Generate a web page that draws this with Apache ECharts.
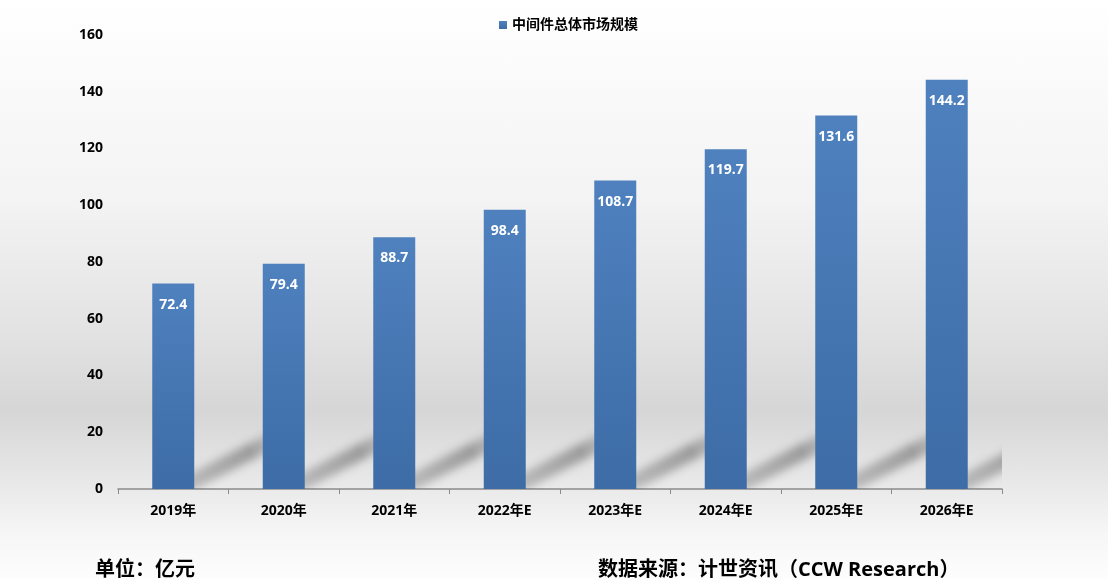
<!DOCTYPE html>
<html>
<head>
	<meta charset="utf-8">
	<title>中间件总体市场规模</title>
	<script src="https://cdn.jsdelivr.net/npm/echarts@6/dist/echarts.min.js"></script>
	<style>
		html, body { margin: 0; padding: 0; }
		#main {
			width: 1108px; height: 579px;
			background: linear-gradient(to bottom, #ffffff 0%, #f3f3f3 35%, #e2e2e2 58%, #d6d6d6 71%, #e6e6e6 82%, #f6f6f6 92%, #fdfdfd 100%);
		}
	</style>
</head>
<body>
	<div id="main"></div>
	<script>
		// 数据
		var years = ['2019年', '2020年', '2021年', '2022年E', '2023年E', '2024年E', '2025年E', '2026年E'];
		var marketSize = [72.4, 79.4, 88.7, 98.4, 108.7, 119.7, 131.6, 144.2];
		var yTicks = [0, 20, 40, 60, 80, 100, 120, 140, 160];

		var font = '"Open Sans", "Noto Sans CJK SC", sans-serif';
		var chart = echarts.init(document.getElementById('main'));

		// 柱子底部的斜向阴影（图形移到画布外，只留下模糊的投影）
		var OFF = 3000;
		function renderShadow(params, api) {
			var base = api.coord([api.value(0), 0]);
			var band = api.size([1, 0])[0];
			var xR = base[0] + band * 0.19, y0 = base[1];
			var x0 = xR - 12 + OFF, ya = y0 - 2;
			var x1 = xR + 100 + OFF, yb = y0 - 60;
			var h = 9;
			return {
				type: 'polygon',
				shape: { points: [[x0, ya + h], [x0, ya - h], [x1, yb - h], [x1, yb + h]] },
				style: {
					fill: {
						type: 'linear', global: true,
						x: x0, y: ya, x2: x1, y2: yb,
						colorStops: [
							{ offset: 0, color: 'rgba(0,0,0,0.6)' },
							{ offset: 0.6, color: 'rgba(0,0,0,1)' },
							{ offset: 1, color: 'rgba(0,0,0,0)' }
						]
					},
					shadowBlur: 9,
					shadowOffsetX: -OFF,
					shadowColor: 'rgba(60,60,60,0.42)'
				}
			};
		}

		chart.setOption({
			backgroundColor: 'transparent',
			textStyle: { fontFamily: font },
			legend: {
				data: ['中间件总体市场规模'],
				top: 13,
				left: 494,
				icon: 'rect',
				itemWidth: 8,
				itemHeight: 8,
				itemGap: 4,
				textStyle: { fontSize: 14, fontWeight: 'bold', color: '#000', fontFamily: font }
			},
			grid: { left: 118, right: 106, top: 35, bottom: 90 },
			xAxis: {
				type: 'category',
				data: years,
				axisLine: { lineStyle: { color: '#8a8a8a', width: 1.5 } },
				axisTick: { show: true, alignWithLabel: false, length: 5, lineStyle: { color: '#8a8a8a' } },
				axisLabel: { color: '#000', fontSize: 14, fontWeight: 'bold', margin: 15, fontFamily: font }
			},
			yAxis: {
				type: 'value',
				min: yTicks[0],
				max: yTicks[yTicks.length - 1],
				interval: yTicks[1] - yTicks[0],
				axisLine: { show: false },
				axisTick: { show: false },
				splitLine: { show: false },
				axisLabel: { color: '#000', fontSize: 14, fontWeight: 'bold', margin: 15, fontFamily: font }
			},
			series: [
				{
					name: 'shadow',
					type: 'custom',
					silent: true,
					clip: true,
					z: 1,
					renderItem: renderShadow,
					data: marketSize.map(function (v, i) { return [i, v]; })
				},
				{
					name: '中间件总体市场规模',
					type: 'bar',
					z: 2,
					barWidth: '38%',
					data: marketSize,
					itemStyle: {
						color: new echarts.graphic.LinearGradient(0, 0, 0, 1, [
							{ offset: 0, color: '#4f81bf' },
							{ offset: 1, color: '#3d6ca6' }
						])
					},
					label: {
						show: true,
						position: 'insideTop',
						distance: 14,
						color: '#fff',
						fontSize: 14,
						fontWeight: 'bold',
						fontFamily: font
					}
				}
			],
			graphic: [
				{
					type: 'text', left: 95, top: 560,
					style: { text: '单位：亿元', fill: '#000', font: 'bold 20px ' + font }
				},
				{
					type: 'text', left: 598, top: 560,
					style: { text: '数据来源：计世资讯（CCW Research）', fill: '#000', font: 'bold 20px ' + font }
				}
			]
		});
	</script>
</body>
</html>
